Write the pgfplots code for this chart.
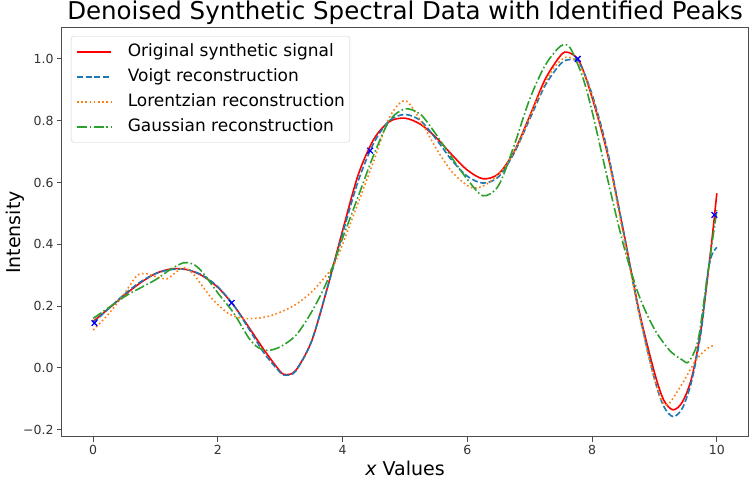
\documentclass[border=0pt]{standalone}
\usepackage{fontspec}
\setmainfont{DejaVu Sans}
\usepackage{pgfplots}
\pgfplotsset{compat=1.18}
\definecolor{tabblue}{HTML}{1F77B4}
\definecolor{taborange}{HTML}{FF7F0E}
\definecolor{tabgreen}{HTML}{2CA02C}
\definecolor{mplred}{HTML}{FF0000}
\definecolor{spine}{gray}{0.3}
\begin{document}
\begin{tikzpicture}
\useasboundingbox (-62pt,-42pt) rectangle (688pt,437pt);
\begin{axis}[
  scale only axis, width=686pt, height=409pt,
  at={(0pt,0pt)}, anchor=south west,
  xmin=-0.5, xmax=10.5, ymin=-0.224, ymax=1.1,
  xtick={0,2,4,6,8,10}, xticklabels={0,2,4,6,8,10},
  ytick={-0.2,0,0.2,0.4,0.6,0.8,1.0},
  yticklabels={−0.2,0.0,0.2,0.4,0.6,0.8,1.0},
  tick pos=left, tick align=outside, major tick length=5pt,
  axis line style={spine, line width=1pt},
  every tick/.style={spine, line width=1pt},
  ticklabel style={font=\fontsize{12.5}{15}\selectfont, text=black!80},
  title={Denoised Synthetic Spectral Data with Identified Peaks},
  title style={at={(axis description cs:0.5,1)}, anchor=base, yshift=2pt, inner sep=0pt, font=\fontsize{24.5}{28}\selectfont},
  xlabel={{\itshape x} Values},
  xlabel style={at={(axis description cs:0.5,0)}, anchor=base, yshift=-38.5pt, inner sep=0pt, font=\fontsize{19}{22}\selectfont},
  ylabel={Intensity},
  ylabel style={at={(axis description cs:-0.068,0.5)}, anchor=center, font=\fontsize{19}{22}\selectfont},
  legend cell align=left,
  legend style={at={(axis description cs:0.0131,0.9804)}, anchor=north west,
    draw=black!20, rounded corners=2.5pt, fill=white,
    font=\fontsize{17}{20}\selectfont, inner xsep=5pt, inner ysep=7pt,
    row sep=8pt, nodes={inner sep=0pt, text height=13pt, text depth=4pt}},
  legend image code/.code={\draw[#1] (0pt,0pt) -- (34pt,0pt); \path (50pt,0pt);},
]
\addplot[mplred, line width=1.6pt, smooth] coordinates {
(0.00,0.150) (0.25,0.192) (0.50,0.235) (0.75,0.274) (1.00,0.305) (1.25,0.320)
(1.50,0.318) (1.75,0.298) (2.00,0.260) (2.25,0.203) (2.50,0.130) (2.75,0.055)
(3.00,-0.012) (3.10,-0.022) (3.25,-0.008) (3.50,0.085) (3.75,0.255) (4.00,0.445)
(4.25,0.625) (4.50,0.740) (4.75,0.797) (5.00,0.808) (5.25,0.788) (5.50,0.745)
(5.75,0.690) (6.00,0.640) (6.25,0.612) (6.50,0.628) (6.75,0.700) (7.00,0.815)
(7.25,0.935) (7.50,1.012) (7.62,1.021) (7.80,0.990) (8.00,0.875) (8.25,0.690)
(8.50,0.445) (8.75,0.188) (9.00,-0.015) (9.15,-0.105) (9.30,-0.136) (9.45,-0.110)
(9.60,-0.030) (9.75,0.130) (9.90,0.375) (10.00,0.565)};
\addlegendentry{Original synthetic signal}
\addplot[tabblue, line width=1.6pt, smooth, dash pattern=on 6pt off 2.6pt] coordinates {
(0.00,0.145) (0.25,0.192) (0.50,0.238) (0.75,0.277) (1.00,0.305) (1.25,0.318)
(1.50,0.318) (1.75,0.300) (2.00,0.262) (2.25,0.203) (2.50,0.125) (2.75,0.045)
(3.00,-0.015) (3.10,-0.024) (3.25,-0.010) (3.50,0.085) (3.75,0.255) (4.00,0.435)
(4.25,0.605) (4.50,0.728) (4.75,0.800) (5.00,0.820) (5.25,0.800) (5.50,0.740)
(5.75,0.672) (6.00,0.620) (6.25,0.598) (6.50,0.618) (6.75,0.695) (7.00,0.805)
(7.25,0.915) (7.50,0.985) (7.65,0.998) (7.80,0.985) (8.00,0.885) (8.25,0.700)
(8.50,0.445) (8.75,0.180) (9.00,-0.035) (9.15,-0.125) (9.30,-0.158) (9.45,-0.130)
(9.60,-0.040) (9.75,0.120) (9.85,0.300) (9.92,0.365) (10.00,0.390)};
\addlegendentry{Voigt reconstruction}
\addplot[taborange, line width=1.6pt, smooth, dash pattern=on 1.6pt off 2.6pt] coordinates {
(0.00,0.122) (0.25,0.175) (0.50,0.240) (0.70,0.298) (0.85,0.305) (1.00,0.295)
(1.18,0.288) (1.30,0.305) (1.45,0.325) (1.60,0.305) (1.75,0.265) (1.90,0.225)
(2.05,0.195) (2.20,0.172) (2.40,0.160) (2.60,0.160) (2.80,0.166) (3.00,0.180)
(3.25,0.205) (3.50,0.245) (3.70,0.290) (3.85,0.330) (4.00,0.400) (4.25,0.535)
(4.50,0.670) (4.75,0.810) (5.00,0.865) (5.25,0.800) (5.50,0.710) (5.75,0.635)
(6.00,0.590) (6.15,0.582) (6.35,0.600) (6.60,0.650) (6.85,0.740) (7.10,0.860)
(7.35,0.960) (7.55,1.003) (7.70,1.000) (7.85,0.960) (8.00,0.880) (8.25,0.690)
(8.50,0.430) (8.75,0.180) (8.95,0.000) (9.10,-0.100) (9.22,-0.118) (9.45,-0.050)
(9.65,0.020) (9.83,0.060) (9.97,0.074)};
\addlegendentry{Lorentzian reconstruction}
\addplot[tabgreen, line width=1.6pt, smooth, dash pattern=on 10pt off 2.6pt on 1.6pt off 2.6pt] coordinates {
(0.00,0.160) (0.25,0.195) (0.50,0.230) (0.75,0.258) (1.00,0.285) (1.25,0.320)
(1.45,0.340) (1.60,0.336) (1.75,0.310) (2.00,0.242) (2.25,0.178) (2.50,0.095)
(2.65,0.065) (2.80,0.056) (3.00,0.068) (3.25,0.105) (3.50,0.180) (3.75,0.280)
(4.00,0.420) (4.25,0.555) (4.50,0.690) (4.75,0.800) (5.00,0.838) (5.25,0.820)
(5.50,0.755) (5.75,0.680) (6.00,0.610) (6.25,0.557) (6.50,0.590) (6.75,0.720)
(7.00,0.870) (7.25,0.980) (7.50,1.042) (7.65,1.035) (7.85,0.940) (8.00,0.830)
(8.25,0.610) (8.50,0.400) (8.75,0.235) (9.00,0.125) (9.25,0.055) (9.45,0.025)
(9.55,0.020) (9.70,0.090) (9.85,0.300) (10.00,0.510)};
\addlegendentry{Gaussian reconstruction}
\addplot[only marks, mark=x, mark size=4pt, blue, mark options={line width=1.3pt}, forget plot] coordinates {
(0.02,0.145) (2.22,0.210) (4.44,0.703) (7.77,1.000) (9.96,0.495)};
\end{axis}
\end{tikzpicture}
\end{document}
